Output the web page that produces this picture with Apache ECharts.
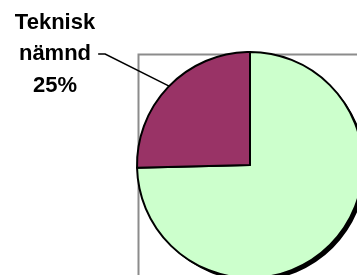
<!DOCTYPE html>
<html>
<head>
<meta charset="utf-8">
<script src="https://cdn.jsdelivr.net/npm/echarts@6/dist/echarts.min.js"></script>
<style>
html,body{margin:0;padding:0;background:#fff;}
#c{width:357px;height:275px;}
</style>
</head>
<body>
<div id="c"></div>
<script>
const categories = ['Övrigt', 'Teknisk nämnd'];
const values = [74.6, 25.4];
const colors = ['#CCFFCC', '#993366'];
const labelShown = [false, true];

const chart = echarts.init(document.getElementById('c'), null, {renderer: 'canvas'});
const center = [250, 165];
const radius = 113;

chart.setOption({
  animation: false,
  graphic: [{
    type: 'rect',
    left: 136, top: 52,
    shape: {width: 320, height: 320},
    style: {fill: 'none', stroke: '#8c8c8c', lineWidth: 2},
    z: 0
  }],
  series: [
    {
      type: 'pie',
      silent: true,
      center: [center[0] + 3, center[1] + 3],
      radius: radius,
      startAngle: 90,
      label: {show: false},
      labelLine: {show: false},
      itemStyle: {color: '#000', borderWidth: 0},
      data: categories.map((n, i) => ({name: n, value: values[i]})),
      z: 1
    },
    {
      type: 'pie',
      center: center,
      radius: radius,
      startAngle: 90,
      clockwise: true,
      percentPrecision: 0,
      itemStyle: {borderColor: '#000', borderWidth: 2},
      label: {
        position: 'outside',
        formatter: p => p.name.replace(' ', '\n') + '\n' + p.percent + '%',
        fontFamily: 'Liberation Sans, Arial, sans-serif',
        fontWeight: 'bold',
        fontSize: 22,
        lineHeight: 31.5,
        color: '#000',
        align: 'center',
        padding: [0, 3, 0, 3]
      },
      labelLine: {show: true, lineStyle: {color: '#000', width: 1.5}, length: 10, length2: 7},
      labelLayout: function (params) {
        return {x: 55, y: 54, align: 'center', verticalAlign: 'middle'};
      },
      data: categories.map((n, i) => ({
        name: n, value: values[i],
        itemStyle: {color: colors[i]},
        label: {show: labelShown[i]},
        labelLine: {show: labelShown[i]}
      })),
      z: 2
    }
  ]
});
</script>
</body>
</html>
